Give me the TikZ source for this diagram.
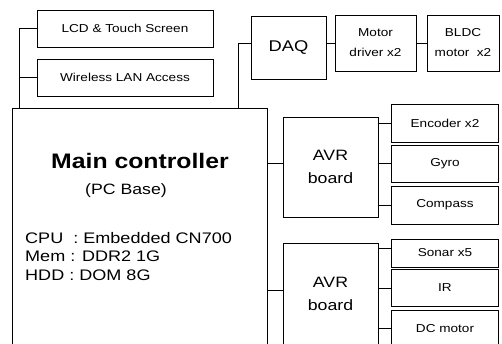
\documentclass[tikz,border=0pt]{standalone}
\usepackage{fontspec}
\setmainfont{Liberation Sans}[FakeStretch=1.18]
\usetikzlibrary{positioning, calc}
\tikzset{
  blk/.style   = {draw, line width=0.9pt, minimum width=107pt, minimum height=37pt,
                  inner sep=0pt, align=center, font=\fontsize{11.5}{20}\selectfont},
  board/.style = {blk, minimum width=95pt, font=\fontsize{15}{23}\selectfont},   % AVR boards
  txt/.style   = {inner sep=0pt, anchor=base},
  wire/.style  = {line width=0.7pt},
}

\begin{document}
\begin{tikzpicture}[x=1pt, y=-1pt]
  \useasboundingbox (0,0) rectangle (502,343);
  \clip (0,0) rectangle (502,343);

  \node[blk, minimum width=176pt]          at (125, 28.5) (lcd)  {LCD \& Touch Screen};
  \node[blk, minimum width=176pt]          at (125, 77.5) (wlan) {Wireless LAN Access};

  \node[blk, minimum width=75pt, minimum height=63pt,
        font=\fontsize{15.5}{18}\selectfont] at (288.5, 47.5) (daq)  {DAQ};
  \node[blk, minimum width=81pt, minimum height=56pt] at (375.5, 43) (drv)  {Motor\\driver x2};
  \node[blk, minimum width=72pt, minimum height=56pt] at (463, 43)   (bldc) {BLDC\\motor \ x2};

  \node[blk, minimum width=255pt, minimum height=242pt] at (139.5, 229) (main) {};
  \node[txt, font=\fontsize{21}{24}\selectfont\bfseries] at (140, 168) (title) {Main controller};
  \node[txt, font=\fontsize{15}{18}\selectfont]          at (126, 194) (base)  {(PC Base)};
  % base anchor of a multi-line node sits on its last line
  \node[txt, anchor=base west, align=left, font=\fontsize{15.3}{18.5}\selectfont]
       at (25, 280) (spec) {CPU\ \ : Embedded CN700\\Mem : DDR2 1G\\HDD : DOM 8G};

  \node[board, minimum height=100pt] at (330.5, 167) (avr1) {AVR\\board};
  \node[board, minimum height=102pt] at (330.5, 294) (avr2) {AVR\\board};

  \node[blk, minimum height=38pt] at (445, 123)   (enc)   {Encoder x2};
  \node[blk]                      at (445, 163.5) (gyro)  {Gyro};
  \node[blk, minimum height=38pt] at (445, 205)   (comp)  {Compass};
  \node[blk, minimum height=28pt] at (445, 253)   (sonar) {Sonar x5};
  \node[blk]                      at (445, 288)   (ir)    {IR};
  \node[blk]                      at (445, 328.5) (dcm)   {DC motor};

  \coordinate (tapL) at (19, 108);
  \coordinate (tapD) at (238, 108);

  \draw[wire] (lcd.west) -| (tapL);
  \draw[wire] (wlan.west) -- (wlan.west -| tapL);
  \draw[wire] (daq.west |- drv.west) -| (tapD);
  \draw[wire] (drv.west) -- (drv.west -| daq.east);
  \draw[wire] (bldc.west) -- (bldc.west -| drv.east);
  \draw[wire] ([yshift=4pt]avr1.west) -- ([yshift=4pt]avr1.west -| main.east);
  \draw[wire] ([yshift=4pt]avr2.west) -- ([yshift=4pt]avr2.west -| main.east);
  \foreach \s in {enc, gyro, comp}
    \draw[wire] (\s.west) -- (\s.west -| avr1.east);
  \draw[wire] ([yshift=5pt]sonar.west) -- ([yshift=5pt]sonar.west -| avr2.east);
  \foreach \s in {ir, dcm}
    \draw[wire] (\s.west) -- (\s.west -| avr2.east);
\end{tikzpicture}
\end{document}
